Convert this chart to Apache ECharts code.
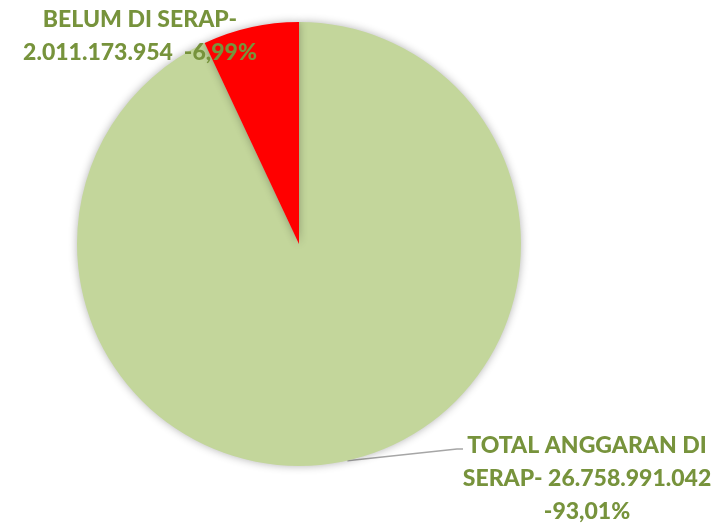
<!DOCTYPE html>
<html>
<head>
<meta charset="utf-8">
<script src="https://cdn.jsdelivr.net/npm/echarts@6/dist/echarts.min.js"></script>
<style>
  html, body { margin: 0; padding: 0; background: #fff; }
  #chart { width: 717px; height: 529px; }
</style>
</head>
<body>
<div id="chart"></div>
<script>
const names = ["TOTAL ANGGARAN DI\nSERAP-", "BELUM DI SERAP-\n"];
const values = [26758991042, 2011173954];
const colors = ["#C3D69B", "#FF0000"];
// where each label sits (center point)
const labelPos = [[587, 479], [140, 36]];

function fmtNum(n) {
  return String(n).replace(/\B(?=(\d{3})+(?!\d))/g, ".");
}

const chart = echarts.init(document.getElementById("chart"), null, { renderer: "canvas" });

chart.setOption({
  animation: false,
  series: [
    {
      type: "pie",
      center: [299, 244],
      radius: 222,
      startAngle: 90,
      clockwise: true,
      data: values.map((v, i) => ({
        name: names[i],
        value: v,
        itemStyle: { color: colors[i] },
        labelLine: { show: i === 0 }
      })),
      itemStyle: {
        shadowBlur: 8,
        shadowColor: "rgba(0,0,0,0.3)"
      },
      label: {
        show: true,
        position: "outside",
        overflow: "none",
        color: "#77933C",
        fontFamily: "Lato",
        fontWeight: 900,
        fontSize: 23,
        lineHeight: 33,
        align: "center",
        formatter: (p) => {
          const pct = p.percent.toFixed(2).replace(".", ",");
          if (p.dataIndex === 0) {
            return p.name + " " + fmtNum(p.value) + "\n-" + pct + "%";
          }
          return p.name + fmtNum(p.value) + "  -" + pct + "%";
        }
      },
      labelLine: {
        lineStyle: { color: "#A6A6A6", width: 1.5 }
      },
      labelLayout: (params) => {
        const pos = labelPos[params.dataIndex];
        const out = {
          x: pos[0],
          y: pos[1],
          align: "center",
          verticalAlign: "middle"
        };
        if (params.labelLinePoints) {
          const a = params.labelLinePoints[0];
          const r = params.labelRect;
          out.labelLinePoints = [a, [pos[0] - 130, pos[1] - 30], [pos[0] - 124, pos[1] - 30]];
        }
        return out;
      },
      emphasis: { disabled: true }
    }
  ]
});
</script>
</body>
</html>
